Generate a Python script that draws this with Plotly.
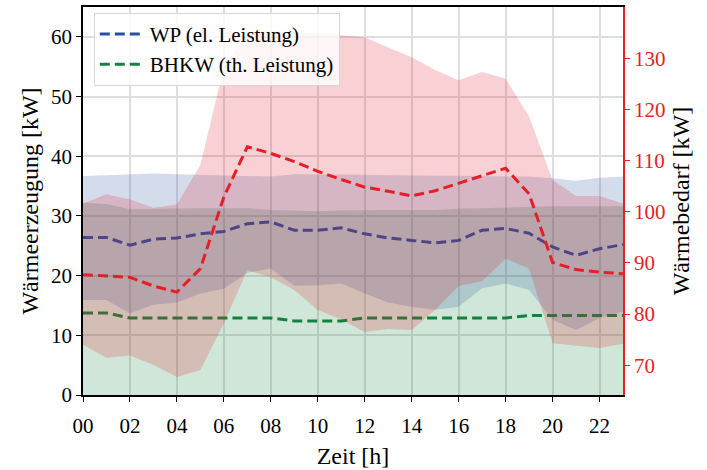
import plotly.graph_objects as go

hours = list(range(24))
xtick_vals = list(range(0, 24, 2))
xtick_text = ["00", "02", "04", "06", "08", "10", "12", "14", "16", "18", "20", "22"]

# WP (el. Leistung) [kW], left axis
wp_mean = [26.4, 26.4, 25.1, 26.1, 26.3, 27.0, 27.4, 28.7, 29.0, 27.6, 27.6, 28.0,
           27.0, 26.3, 25.9, 25.5, 25.9, 27.6, 27.9, 27.1, 24.8, 23.4, 24.5, 25.2]
wp_min = [15.9, 15.9, 13.7, 15.1, 15.5, 17.0, 17.8, 20.5, 21.2, 18.3, 18.4, 18.7,
          17.0, 15.5, 14.8, 14.3, 14.8, 17.9, 18.7, 17.6, 12.6, 10.9, 12.9, 14.0]
wp_max = [36.7, 36.8, 37.0, 37.1, 37.0, 36.9, 36.9, 36.7, 36.6, 37.0, 37.0, 36.9,
          36.9, 36.8, 36.8, 36.7, 36.7, 36.7, 36.6, 36.6, 36.3, 35.9, 36.4, 36.6]

# BHKW (th. Leistung) [kW], left axis
bhkw_mean = [13.75, 13.75, 12.9, 12.9, 12.9, 12.9, 12.9, 12.9, 12.9, 12.4, 12.4, 12.4,
             12.9, 12.9, 12.9, 12.9, 12.9, 12.9, 12.9, 13.3, 13.3, 13.3, 13.3, 13.3]
bhkw_min = [0] * 24
bhkw_max = [32.2, 32.0, 31.1, 31.2, 31.2, 31.3, 31.3, 31.3, 31.0, 30.9, 30.8, 30.9,
            31.0, 31.0, 31.0, 31.0, 31.2, 31.3, 31.5, 31.6, 31.6, 31.6, 31.6, 31.6]

# Wärmebedarf [kW], right axis
demand_mean = [87.7, 87.4, 87.2, 85.5, 84.3, 88.9, 102.9, 112.7, 111.4, 109.8, 107.9, 106.3,
               104.8, 104.0, 103.1, 104.1, 105.6, 107.1, 108.5, 103.5, 90.1, 88.7, 88.2, 87.9]
demand_min = [74.0, 71.5, 71.9, 70.1, 67.7, 69.1, 78.2, 88.6, 87.2, 84.7, 80.8, 79.0,
              76.5, 77.1, 76.9, 80.8, 85.5, 86.4, 90.8, 88.9, 74.3, 73.9, 73.4, 74.2]
demand_max = [101.6, 103.4, 102.4, 100.8, 101.4, 109.2, 128.2, 135.0, 135.4, 135.0, 134.8, 134.4,
              134.1, 132.1, 130.2, 127.7, 125.7, 127.3, 126.0, 118.6, 106.2, 103.1, 103.1, 101.6]

C_WP = "rgb(40,80,160)"
C_BH = "rgb(20,130,60)"
C_RD = "rgb(230,30,40)"
F_WP = "rgba(40,80,160,0.2)"
F_BH = "rgba(20,130,60,0.2)"
F_RD = "rgba(225,25,40,0.2)"
DASH = "10px,5px"
FONT = "Liberation Serif"

fig = go.Figure()

def band(lo, hi, fc, yaxis):
    fig.add_trace(go.Scatter(x=hours, y=lo, mode="lines", line=dict(width=0),
                             showlegend=False, hoverinfo="skip", yaxis=yaxis))
    fig.add_trace(go.Scatter(x=hours, y=hi, mode="lines", line=dict(width=0),
                             fill="tonexty", fillcolor=fc, showlegend=False,
                             hoverinfo="skip", yaxis=yaxis))

band(bhkw_min, bhkw_max, F_BH, "y")
band(wp_min, wp_max, F_WP, "y")

fig.add_trace(go.Scatter(x=hours, y=wp_mean, mode="lines", name="WP (el. Leistung)",
                         line=dict(color=C_WP, width=3, dash=DASH)))
fig.add_trace(go.Scatter(x=hours, y=bhkw_mean, mode="lines", name="BHKW (th. Leistung)",
                         line=dict(color=C_BH, width=3, dash=DASH)))

band(demand_min, demand_max, F_RD, "y2")
fig.add_trace(go.Scatter(x=hours, y=demand_mean, mode="lines", showlegend=False,
                         line=dict(color=C_RD, width=3, dash=DASH), yaxis="y2"))

fig.update_layout(
    width=707, height=470,
    margin=dict(l=83, r=84, t=5, b=75),
    paper_bgcolor="white", plot_bgcolor="white",
    font=dict(family=FONT, size=21, color="black"),
    showlegend=True,
    legend=dict(x=0.02, y=0.985, xanchor="left", yanchor="top", traceorder="normal",
                bgcolor="rgba(255,255,255,0.8)", bordercolor="rgb(215,215,215)",
                borderwidth=1, font=dict(size=21, family=FONT), itemwidth=45),
    xaxis=dict(range=[0, 23], tickvals=xtick_vals, ticktext=xtick_text,
               showgrid=True, gridcolor="rgb(222,222,222)", gridwidth=1.5,
               showline=True, linecolor="black", linewidth=1.5, mirror=True,
               ticks="outside", ticklen=5, tickcolor="black", zeroline=False,
               ticklabelstandoff=6,
               title=dict(text="Zeit [h]", font=dict(size=24), standoff=10),
               tickfont=dict(size=21)),
    yaxis=dict(range=[0, 65], dtick=10, showgrid=True, gridcolor="rgb(222,222,222)",
               gridwidth=1.5, showline=True, linecolor="black", linewidth=1.5,
               ticks="outside", ticklen=5, tickcolor="black", zeroline=False,
               title=dict(text="Wärmeerzeugung [kW]", font=dict(size=24), standoff=6),
               tickfont=dict(size=21)),
    yaxis2=dict(range=[64.2, 140.0], tickvals=[70, 80, 90, 100, 110, 120, 130],
                overlaying="y", side="right", showgrid=False, zeroline=False,
                showline=True, linecolor=C_RD, linewidth=1.5,
                ticks="outside", ticklen=5, tickcolor=C_RD,
                tickfont=dict(size=21, color=C_RD),
                title=dict(text="Wärmebedarf [kW]", font=dict(size=24, color="black"),
                           standoff=8)),
)

fig.write_html("out.html")
